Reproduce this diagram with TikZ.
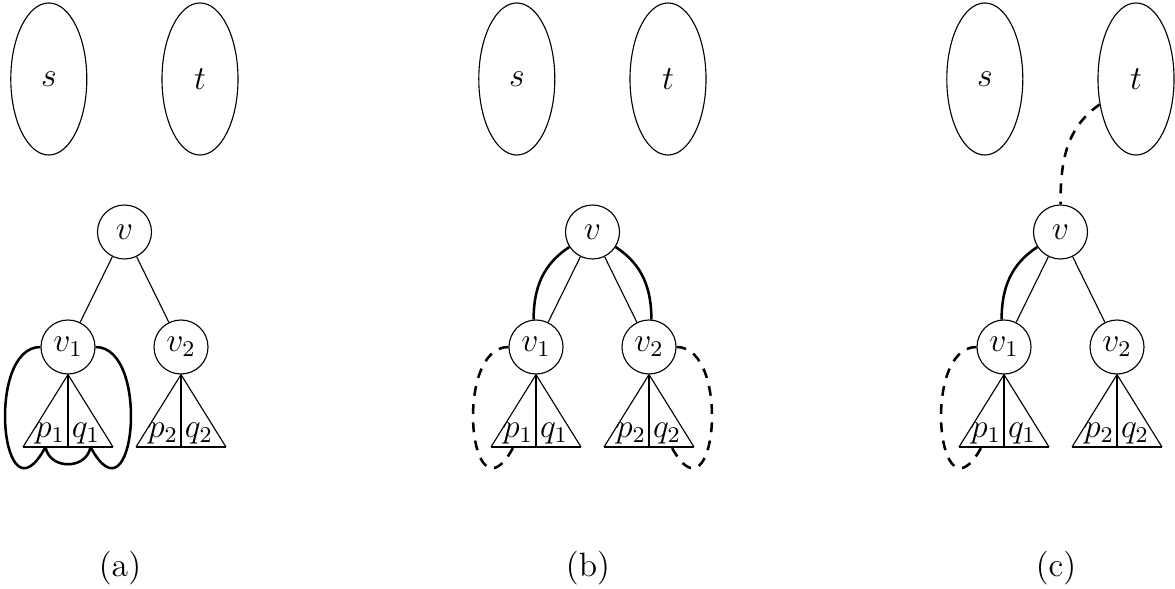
\documentclass[tikz,border=0pt]{standalone}
\usetikzlibrary{shapes.geometric}
\tikzset{
  x=0.0125cm, y=0.0125cm,
  setnode/.style={draw, ellipse, minimum width=0.95cm, minimum height=1.9cm, inner sep=0pt},
  vnode/.style={draw, circle, minimum size=0.675cm, inner sep=0pt},
  pbase/.style={line width=0.8pt},
  pathline/.style={line width=0.9pt},
  dpath/.style={line width=0.9pt, dash pattern=on 3.5pt off 3pt},
}
\newcommand\drawpanel[3]{% #1 prefix, #2 x offset, #3 caption
  \begin{scope}[shift={(#2,0)}]
    \node[setnode] (#1s) at (48.8,509) {$s$};
    \node[setnode] (#1t) at (200,509) {$t$};
    \node[vnode] (#1v) at (124.5,356) {$v$};
    \node[vnode] (#1v1) at (68,241) {$v_1$};
    \node[vnode] (#1v2) at (181,241) {$v_2$};
    \draw (#1v) -- (#1v1);
    \draw (#1v) -- (#1v2);
    % subtree of v1
    \coordinate (#1L1) at (23,141);
    \coordinate (#1M1) at (68,141);
    \coordinate (#1R1) at (113,141);
    \coordinate (#1A1) at (45.5,141);
    \coordinate (#1B1) at (90.5,141);
    \draw (#1L1) -- (#1v1.south) -- (#1R1);
    \draw (#1v1.south) -- (#1M1);
    \draw[pbase] (#1L1) -- (#1M1);
    \draw (#1M1) -- (#1R1);
    \node[anchor=base] (#1p1) at (50,151) {$p_1$};
    \node[anchor=base] (#1q1) at (86,151) {$q_1$};
    % subtree of v2
    \coordinate (#1L2) at (136,141);
    \coordinate (#1M2) at (181,141);
    \coordinate (#1R2) at (226,141);
    \coordinate (#1A2) at (158.5,141);
    \coordinate (#1B2) at (203.5,141);
    \draw (#1L2) -- (#1v2.south) -- (#1R2);
    \draw (#1v2.south) -- (#1M2);
    \draw[pbase] (#1L2) -- (#1M2);
    \draw (#1M2) -- (#1R2);
    \node[anchor=base] (#1p2) at (163,151) {$p_2$};
    \node[anchor=base] (#1q2) at (199,151) {$q_2$};
    \node (#1cap) at (120,20) {#3};
  \end{scope}}
\begin{document}
\begin{tikzpicture}[font=\fontsize{12}{14.4}\selectfont]
\useasboundingbox (0,0) rectangle (1175,588);
\drawpanel{a}{0}{(a)}
\drawpanel{b}{468}{(b)}
\drawpanel{c}{936}{(c)}
% panel (a)
\draw[pathline] (av1.west) .. controls +(-56,0) and +(-44,-82) .. (aA1);
\draw[pathline] (aA1) .. controls +(4,-23) and +(-4,-23) .. (aB1);
\draw[pathline] (aB1) .. controls +(44,-82) and +(56,0) .. (av1.east);
% panel (b)
\draw[pathline] (bv.213) to[out=213,in=90] (bv1.95);
\draw[pathline] (bv.-33) to[out=-33,in=90] (bv2.85);
\draw[dpath] (bv1.west) .. controls +(-56,0) and +(-44,-82) .. (bA1);
\draw[dpath] (bv2.east) .. controls +(56,0) and +(44,-82) .. (bB2);
% panel (c)
\draw[dpath] (ct.215) to[out=215,in=90] (cv.north);
\draw[pathline] (cv.213) to[out=213,in=90] (cv1.95);
\draw[dpath] (cv1.west) .. controls +(-56,0) and +(-44,-82) .. (cA1);
\end{tikzpicture}
\end{document}
